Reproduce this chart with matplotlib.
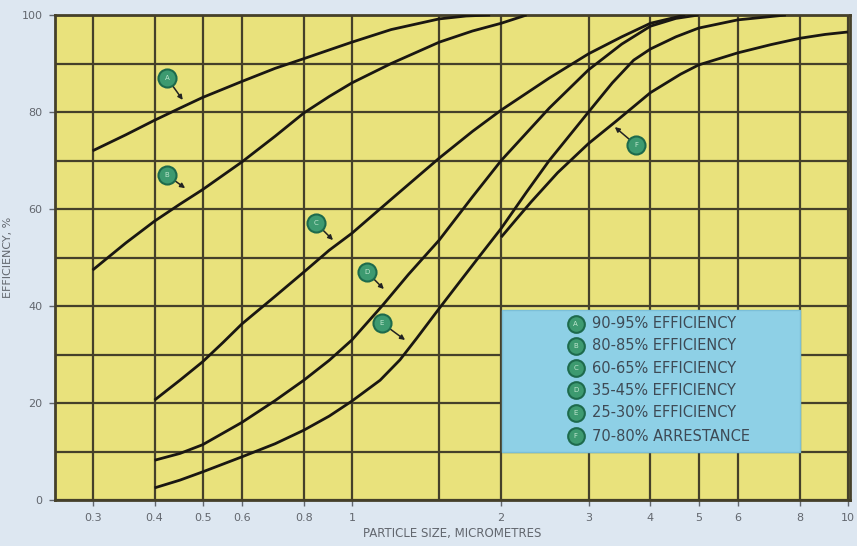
import matplotlib
matplotlib.use("Agg")
import matplotlib.pyplot as plt
from matplotlib.patches import Rectangle

# curves (particle size in micrometres, efficiency %)
a_x = [0.3, 0.35, 0.4, 0.45, 0.5, 0.6, 0.7, 0.8, 0.9, 1.0, 1.2, 1.5, 1.7, 1.9]
a_y = [72, 75.3, 78.3, 80.8, 83, 86.3, 89, 91, 92.8, 94.4, 97, 99.2, 99.8, 100]

b_x = [0.3, 0.35, 0.4, 0.45, 0.5, 0.6, 0.7, 0.8, 0.9, 1.0, 1.2, 1.5, 1.75, 2.0, 2.25]
b_y = [47.4, 53, 57.5, 61, 64, 69.7, 75, 79.8, 83.2, 86, 90, 94.4, 96.7, 98.3, 100]

c_x = [0.4, 0.45, 0.5, 0.55, 0.6, 0.7, 0.8, 0.9, 1.0, 1.2, 1.5, 1.75, 2.0, 2.5, 3.0, 3.5, 4.0, 4.7]
c_y = [20.6, 24.7, 28.5, 32.5, 36.3, 42, 47, 51.5, 55, 62, 70.5, 76, 80.4, 87, 92, 95.5, 98.3, 100]

d_x = [0.4, 0.45, 0.5, 0.6, 0.7, 0.8, 0.9, 1.0, 1.15, 1.3, 1.5, 1.75, 2.0, 2.5, 3.0, 3.5, 4.0, 4.5, 5.0]
d_y = [8.2, 9.6, 11.4, 16, 20.5, 24.7, 28.8, 33, 40, 46.5, 53.6, 62.5, 70, 80.8, 88.7, 94, 97.7, 99.3, 100]

e_x = [0.4, 0.45, 0.5, 0.6, 0.7, 0.8, 0.9, 1.0, 1.14, 1.25, 1.35, 1.5, 1.65, 1.8, 2.0, 2.25, 2.5,
       3.0, 3.35, 3.7, 4.0, 4.5, 5.0, 6.0, 7.5]
e_y = [2.5, 4.1, 5.8, 8.9, 11.6, 14.4, 17.3, 20.4, 24.7, 28.9, 33.3, 39.5, 45, 50, 56, 63.5, 70,
       80, 86, 90.7, 93, 95.5, 97.3, 99, 100]

f_x = [2.0, 2.15, 2.3, 2.6, 3.0, 3.4, 4.0, 4.6, 5.0, 6.0, 7.0, 8.0, 9.0, 10.0]
f_y = [54.2, 58, 61.5, 67.5, 73.5, 78, 84, 87.8, 89.7, 92.2, 93.9, 95.2, 96, 96.5]

curve_letters = ["A", "B", "C", "D", "E", "F"]
legend_labels = ["90-95% EFFICIENCY", "80-85% EFFICIENCY", "60-65% EFFICIENCY",
                 "35-45% EFFICIENCY", "25-30% EFFICIENCY", "70-80% ARRESTANCE"]

# callout bubbles: (marker x, marker y, arrow tip x, arrow tip y)
callout_mx = [0.424, 0.424, 0.846, 1.072, 1.15, 3.74]
callout_my = [87.0, 67.0, 57.1, 47.0, 36.5, 73.2]
callout_tx = [0.456, 0.461, 0.916, 1.16, 1.28, 3.39]
callout_ty = [82.5, 64.3, 53.6, 43.5, 33.0, 76.9]

x_grid = [0.3, 0.4, 0.5, 0.6, 0.8, 1, 1.5, 2, 3, 4, 5, 6, 8, 10]
x_ticks = [0.3, 0.4, 0.5, 0.6, 0.8, 1, 2, 3, 4, 5, 6, 8, 10]
x_ticklabels = ["0.3", "0.4", "0.5", "0.6", "0.8", "1", "2", "3", "4", "5", "6", "8", "10"]
y_grid = list(range(0, 101, 10))
y_ticks = [0, 20, 40, 60, 80, 100]

bg = "#dde7f1"
yellow = "#e9e27c"
gridc = "#45402a"
txtc = "#62676e"

fig = plt.figure(figsize=(8.57, 5.46), dpi=100, facecolor=bg)
ax = fig.add_axes([0.0642, 0.0842, 0.9276, 0.8883])
ax.set_facecolor(yellow)
ax.set_xscale("log")
ax.set_xlim(0.252, 10.1)
ax.set_ylim(0, 100)

for gx in x_grid:
    ax.axvline(gx, color=gridc, lw=1.6, zorder=1)
for gy in y_grid:
    ax.axhline(gy, color=gridc, lw=1.6, zorder=1)

for xs, ys in [(a_x, a_y), (b_x, b_y), (c_x, c_y), (d_x, d_y), (e_x, e_y), (f_x, f_y)]:
    ax.plot(xs, ys, color="#1a1712", lw=2.0, zorder=3, solid_capstyle="butt",
            solid_joinstyle="round")

for i, letter in enumerate(curve_letters):
    ax.annotate("", xy=(callout_tx[i], callout_ty[i]), xytext=(callout_mx[i], callout_my[i]),
                arrowprops=dict(arrowstyle="-|>", color="#222222", lw=1.1,
                                mutation_scale=7, shrinkA=6, shrinkB=0), zorder=4)
    ax.plot(callout_mx[i], callout_my[i], "o", ms=13, mfc="#3d9a70", mec="#1d6a4c",
            mew=1.5, zorder=5)
    ax.text(callout_mx[i], callout_my[i], letter, fontsize=5, color="#bfe6cf",
            ha="center", va="center", zorder=6)

# legend box
ax.add_patch(Rectangle((0.562, 0.099), 0.375, 0.293, transform=ax.transAxes,
                       facecolor="#8ed0e6", edgecolor="#7bbfd8", lw=1, zorder=7))
row_y = [0.363, 0.318, 0.272, 0.226, 0.180, 0.132]
for i, lab in enumerate(legend_labels):
    ax.plot(0.655, row_y[i], "o", ms=12, mfc="#3d9a70", mec="#1d6a4c", mew=1.5,
            transform=ax.transAxes, zorder=8)
    ax.text(0.655, row_y[i], curve_letters[i], fontsize=5, color="#bfe6cf",
            ha="center", va="center", transform=ax.transAxes, zorder=9)
    ax.text(0.675, row_y[i], lab, fontsize=10.5, color="#3e4a55", ha="left",
            va="center", transform=ax.transAxes, zorder=9)

ax.set_xticks(x_ticks)
ax.set_xticklabels(x_ticklabels)
ax.xaxis.set_minor_locator(matplotlib.ticker.NullLocator())
ax.set_yticks(y_ticks)
ax.tick_params(axis="both", colors=txtc, labelsize=8, length=4, width=1)
ax.tick_params(axis="x", pad=5)
ax.tick_params(axis="y", pad=5)
for s in ax.spines.values():
    s.set_color(gridc)
    s.set_linewidth(2)

ax.set_xlabel("PARTICLE SIZE, MICROMETRES", fontsize=8.5, color=txtc, labelpad=3)
ax.set_ylabel("EFFICIENCY, %", fontsize=8, color=txtc, labelpad=6)

fig.savefig("out.png", dpi=100, facecolor=bg)
